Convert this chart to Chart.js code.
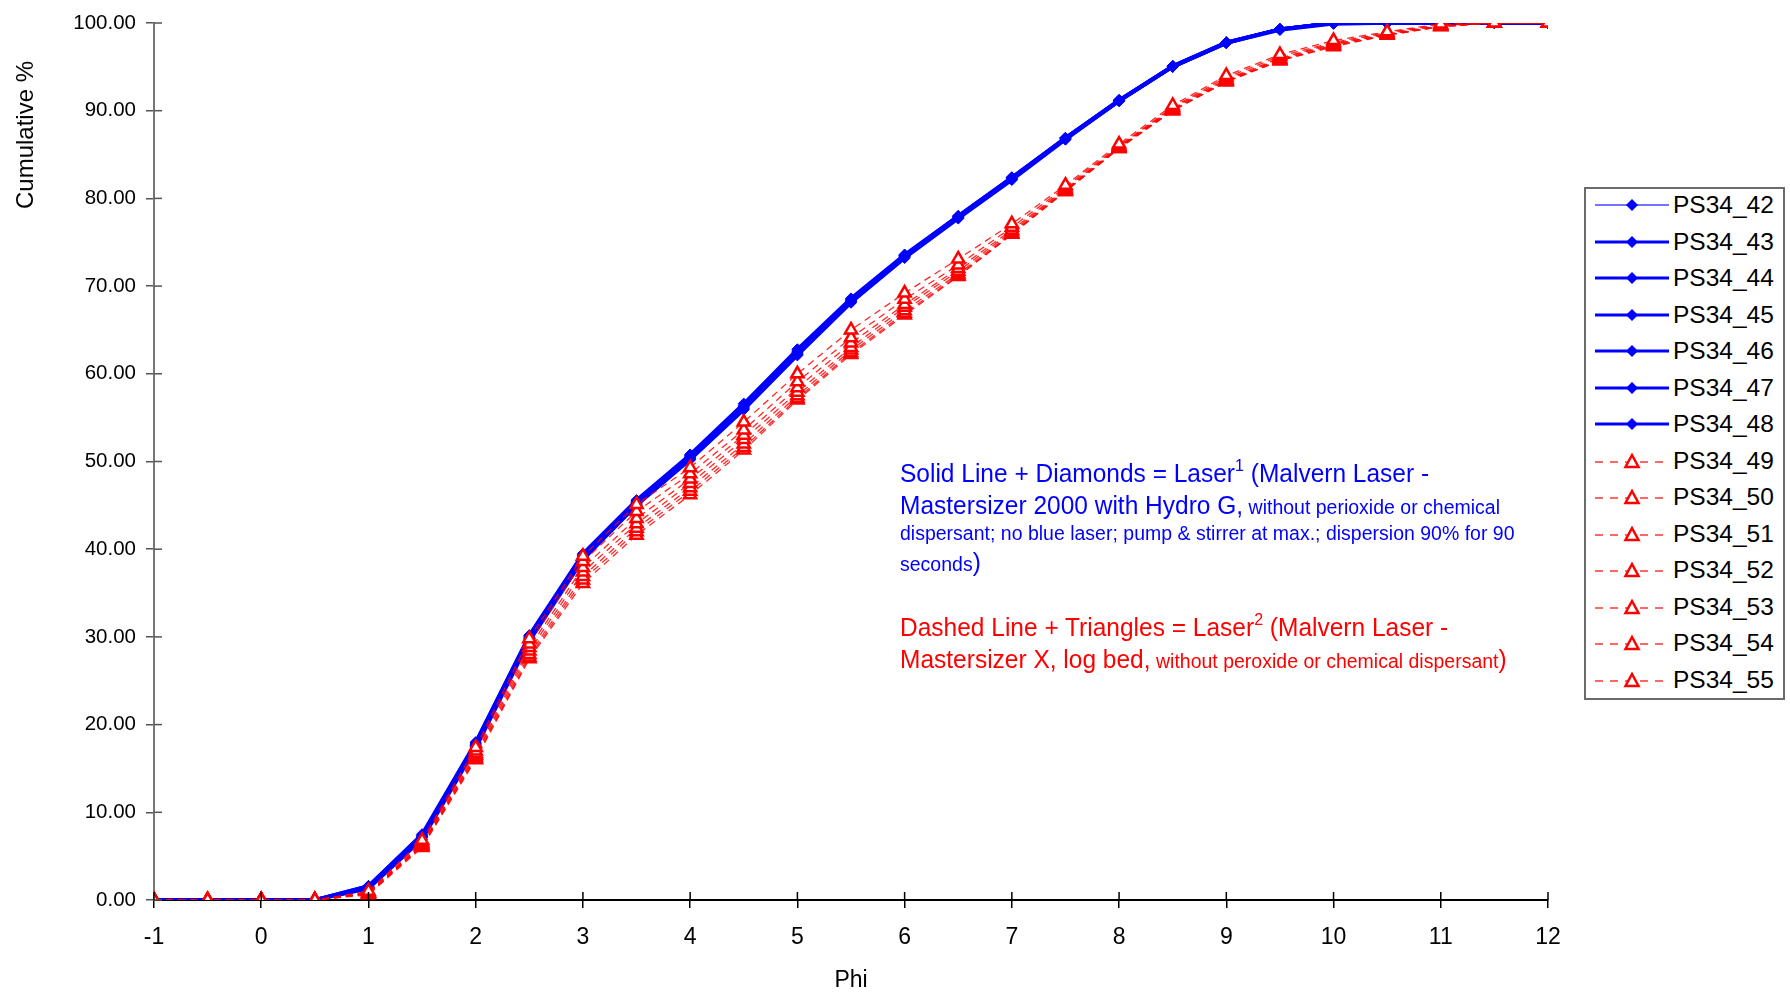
<!DOCTYPE html>
<html>
<head>
<meta charset="utf-8">
<script src="https://cdn.jsdelivr.net/npm/chart.js@4.4.1/dist/chart.umd.min.js"></script>
<style>
  html, body { margin: 0; padding: 0; background: #fff; }
  #wrap { position: relative; width: 1790px; height: 992px; font-family: "Liberation Sans", Arial, sans-serif; }
  #chart { position: absolute; left: 0; top: 0; }
  .ytitle { position: absolute; left: 25px; top: 135px; font-size: 24px; color: #000;
            transform: translate(-50%, -50%) rotate(-90deg); white-space: nowrap; }
  .note { position: absolute; left: 900px; white-space: nowrap; line-height: 30px; height: 30px;
          transform: scaleY(1.08); transform-origin: left center; }
  .big { font-size: 24.5px; }
  .small { font-size: 19.5px; }
  .note sup { font-size: 16px; vertical-align: 10px; line-height: 0; }
  .blue { color: #0000ff; }
  .red { color: #ff0000; }
  #legend { position: absolute; left: 1584px; top: 187px; width: 197px; height: 509px;
            border: 2px solid #6b6b6b; background: #fff; }
  .row { position: absolute; left: 0; height: 36px; width: 197px; }
  .row svg { position: absolute; left: 7px; top: 0; }
  .row span { position: absolute; left: 87px; top: 0; line-height: 36px; font-size: 24.5px; color: #000; }
</style>
</head>
<body>
<div id="wrap">
  <canvas id="chart" width="1790" height="992"></canvas>
  <div class="ytitle">Cumulative %</div>

  <div class="note blue big" style="top:458px">Solid Line + Diamonds = Laser<sup>1</sup> (Malvern Laser -</div>
  <div class="note blue" style="top:490px"><span class="big">Mastersizer 2000 with Hydro G,</span><span class="small"> without perioxide or chemical</span></div>
  <div class="note blue small" style="top:517px">dispersant; no blue laser; pump &amp; stirrer at max.; dispersion 90% for 90</div>
  <div class="note blue" style="top:547px"><span class="small">seconds</span><span class="big">)</span></div>

  <div class="note red big" style="top:612px">Dashed Line + Triangles = Laser<sup>2</sup> (Malvern Laser -</div>
  <div class="note red" style="top:644px"><span class="big">Mastersizer X, log bed,</span><span class="small"> without peroxide or chemical dispersant</span><span class="big">)</span></div>

  <div id="legend"></div>
</div>
<script>
// Phi classes (x axis)
const phi = [-1, -0.5, 0, 0.5, 1, 1.5, 2, 2.5, 3, 3.5, 4, 4.5, 5, 5.5, 6, 6.5, 7, 7.5, 8, 8.5, 9, 9.5, 10, 10.5, 11, 11.5, 12];

// Laser 1 (Mastersizer 2000) - solid blue
const ps34_42 = [0, 0, 0, 0, 1.5, 7.3, 17.8, 30.0, 39.3, 45.4, 50.6, 56.3, 62.5, 68.4, 73.5, 77.9, 82.3, 86.9, 91.2, 95.1, 97.8, 99.3, 100, 100, 100, 100, 100];
const ps34_43 = [0, 0, 0, 0, 1.6, 7.5, 18.0, 30.2, 39.5, 45.6, 50.8, 56.6, 62.8, 68.6, 73.6, 78.0, 82.4, 86.9, 91.2, 95.1, 97.8, 99.3, 100, 100, 100, 100, 100];
const ps34_44 = [0, 0, 0, 0, 1.4, 7.1, 17.5, 29.7, 39.0, 45.1, 50.3, 56.0, 62.2, 68.2, 73.3, 77.8, 82.2, 86.8, 91.1, 95.0, 97.7, 99.3, 100, 100, 100, 100, 100];
const ps34_45 = [0, 0, 0, 0, 1.5, 7.2, 17.7, 29.9, 39.2, 45.3, 50.5, 56.2, 62.4, 68.3, 73.4, 77.9, 82.3, 86.9, 91.2, 95.1, 97.8, 99.3, 100, 100, 100, 100, 100];
const ps34_46 = [0, 0, 0, 0, 1.3, 6.9, 17.3, 29.5, 38.8, 45.0, 50.2, 55.9, 62.1, 68.1, 73.2, 77.7, 82.1, 86.7, 91.1, 95.0, 97.7, 99.2, 99.9, 100, 100, 100, 100];
const ps34_47 = [0, 0, 0, 0, 1.6, 7.4, 17.9, 30.1, 39.4, 45.5, 50.7, 56.4, 62.6, 68.5, 73.5, 78.0, 82.4, 86.9, 91.2, 95.1, 97.8, 99.3, 100, 100, 100, 100, 100];
const ps34_48 = [0, 0, 0, 0, 1.4, 7.2, 17.6, 29.8, 39.1, 45.2, 50.4, 56.1, 62.3, 68.3, 73.4, 77.8, 82.2, 86.8, 91.1, 95.0, 97.7, 99.3, 100, 100, 100, 100, 100];

// Laser 2 (Mastersizer X) - dashed red
const ps34_49 = [0, 0, 0, 0, 1.0, 6.8, 17.4, 29.8, 39.2, 45.1, 49.3, 54.5, 60.0, 65.0, 69.2, 73.1, 77.1, 81.5, 86.2, 90.6, 94.0, 96.4, 98.0, 99.0, 99.9, 100, 100];
const ps34_50 = [0, 0, 0, 0, 0.9, 6.6, 17.0, 29.2, 38.6, 44.3, 48.6, 53.6, 59.1, 64.1, 68.5, 72.4, 76.7, 81.3, 86.0, 90.4, 93.8, 96.2, 97.8, 98.9, 99.8, 100, 100];
const ps34_51 = [0, 0, 0, 0, 0.8, 6.4, 16.7, 28.8, 37.9, 43.5, 48.0, 53.0, 58.4, 63.5, 67.9, 72.0, 76.4, 81.1, 85.9, 90.3, 93.6, 96.0, 97.7, 98.8, 99.7, 100, 100];
const ps34_52 = [0, 0, 0, 0, 0.8, 6.3, 16.5, 28.4, 37.4, 42.9, 47.5, 52.5, 57.9, 63.0, 67.6, 71.7, 76.2, 81.0, 85.8, 90.2, 93.5, 95.9, 97.6, 98.7, 99.7, 100, 100];
const ps34_53 = [0, 0, 0, 0, 0.7, 6.2, 16.3, 28.0, 36.9, 42.4, 47.0, 52.0, 57.5, 62.7, 67.2, 71.4, 76.0, 80.9, 85.8, 90.1, 93.4, 95.8, 97.5, 98.7, 99.6, 100, 100];
const ps34_54 = [0, 0, 0, 0, 0.7, 6.1, 16.1, 27.7, 36.5, 42.0, 46.6, 51.6, 57.2, 62.4, 66.9, 71.2, 75.9, 80.8, 85.7, 90.0, 93.3, 95.7, 97.4, 98.6, 99.6, 100, 100];
const ps34_55 = [0, 0, 0, 0, 0.6, 6.0, 16.0, 27.5, 36.1, 41.6, 46.2, 51.3, 57.0, 62.2, 66.7, 71.1, 75.9, 80.8, 85.7, 90.0, 93.3, 95.7, 97.3, 98.6, 99.6, 100, 100];

const blueSeries = [['PS34_42', ps34_42], ['PS34_43', ps34_43], ['PS34_44', ps34_44], ['PS34_45', ps34_45],
                    ['PS34_46', ps34_46], ['PS34_47', ps34_47], ['PS34_48', ps34_48]];
const redSeries = [['PS34_49', ps34_49], ['PS34_50', ps34_50], ['PS34_51', ps34_51], ['PS34_52', ps34_52],
                   ['PS34_53', ps34_53], ['PS34_54', ps34_54], ['PS34_55', ps34_55]];

const yTicks = [0, 10, 20, 30, 40, 50, 60, 70, 80, 90, 100];
const xTicks = [-1, 0, 1, 2, 3, 4, 5, 6, 7, 8, 9, 10, 11, 12];

const toPoints = vals => vals.map((v, i) => ({ x: phi[i], y: v }));

const datasets = [];
blueSeries.forEach(([name, vals], i) => {
    datasets.push({
        label: name,
        data: toPoints(vals),
        borderColor: i === 0 ? 'rgba(0,0,255,0.55)' : '#0000ff',
        backgroundColor: '#0000ff',
        borderWidth: i === 0 ? 2 : 3.5,
        pointStyle: 'rectRot',
        pointRadius: 5.5,
        pointBackgroundColor: '#0000ff',
        pointBorderColor: '#0000ff',
        pointBorderWidth: 1,
        tension: 0,
        order: 2
    });
});
redSeries.forEach(([name, vals]) => {
    datasets.push({
        label: name,
        data: toPoints(vals),
        borderColor: 'rgba(255,0,0,0.85)',
        backgroundColor: '#ffffff',
        borderWidth: 1.3,
        borderDash: [7, 5],
        pointStyle: 'triangle',
        pointRadius: 7,
        pointBackgroundColor: '#ffffff',
        pointBorderColor: '#ff0000',
        pointBorderWidth: 2.5,
        tension: 0,
        order: 1
    });
});

// chart area fixed at x 154..1548, y 23..900
const fixY = scale => { scale.width = 154; scale.paddingTop = 0; scale.paddingBottom = 0; };
const fixX = scale => { scale.height = 92; scale.paddingLeft = 0; scale.paddingRight = 0; };

// Excel-style tick marks that cross the axis (inner half)
const innerTicks = {
    id: 'innerTicks',
    afterDraw(chart) {
        const { ctx, chartArea, scales } = chart;
        ctx.save();
        ctx.lineWidth = 1.5;
        ctx.strokeStyle = '#555';
        yTicks.forEach(v => {
            const y = scales.y.getPixelForValue(v);
            ctx.beginPath(); ctx.moveTo(chartArea.left, y); ctx.lineTo(chartArea.left + 8, y); ctx.stroke();
        });
        ctx.strokeStyle = '#000';
        xTicks.forEach(v => {
            const x = scales.x.getPixelForValue(v);
            ctx.beginPath(); ctx.moveTo(x, chartArea.bottom); ctx.lineTo(x, chartArea.bottom - 8); ctx.stroke();
        });
        ctx.restore();
    }
};

new Chart(document.getElementById('chart').getContext('2d'), {
    type: 'line',
    data: { datasets: datasets },
    plugins: [innerTicks],
    options: {
        responsive: false,
        animation: false,
        devicePixelRatio: 1,
        layout: { padding: { left: 0, top: 23, right: 242, bottom: 0 } },
        plugins: { legend: { display: false }, tooltip: { enabled: false } },
        scales: {
            x: {
                type: 'linear',
                min: -1, max: 12,
                afterFit: fixX,
                afterBuildTicks: s => { s.ticks = xTicks.map(v => ({ value: v })); },
                grid: { drawOnChartArea: false, drawTicks: true, tickLength: 8, color: '#000', lineWidth: 1.5 },
                border: { color: '#000', width: 2 },
                ticks: { color: '#000', font: { family: 'Liberation Sans', size: 23 }, padding: 16, maxRotation: 0,
                         callback: v => String(v) },
                title: { display: true, text: 'Phi', color: '#000', font: { family: 'Liberation Sans', size: 23 },
                         padding: { top: 0, bottom: -2 } }
            },
            y: {
                min: 0, max: 100,
                afterFit: fixY,
                afterBuildTicks: s => { s.ticks = yTicks.map(v => ({ value: v })); },
                grid: { drawOnChartArea: false, drawTicks: true, tickLength: 8, color: '#555', lineWidth: 1.5 },
                border: { color: '#777', width: 2 },
                ticks: { color: '#000', font: { family: 'Liberation Sans', size: 20.5 }, padding: 10,
                         callback: v => v.toFixed(2) }
            }
        }
    }
});

// legend in a box, built from the datasets
const legend = document.getElementById('legend');
datasets.forEach((ds, i) => {
    const row = document.createElement('div');
    row.className = 'row';
    row.style.top = (i * 36.5 - 2) + 'px';
    const isBlue = ds.pointStyle === 'rectRot';
    let svg;
    if (isBlue) {
        svg = '<svg width="80" height="36"><line x1="2" y1="18" x2="76" y2="18" stroke="' + ds.borderColor +
              '" stroke-width="' + (i === 0 ? 2 : 3) + '"/><polygon points="39,12 45,18 39,24 33,18" fill="#0000ff"/></svg>';
    } else {
        svg = '<svg width="80" height="36"><line x1="2" y1="19" x2="76" y2="19" stroke="rgba(255,0,0,0.8)" stroke-width="1.5" stroke-dasharray="8,7"/>' +
              '<polygon points="39,12 45.5,24 32.5,24" fill="#fff" stroke="#ff0000" stroke-width="2.5"/></svg>';
    }
    row.innerHTML = svg + '<span>' + ds.label + '</span>';
    legend.appendChild(row);
});
</script>
</body>
</html>
